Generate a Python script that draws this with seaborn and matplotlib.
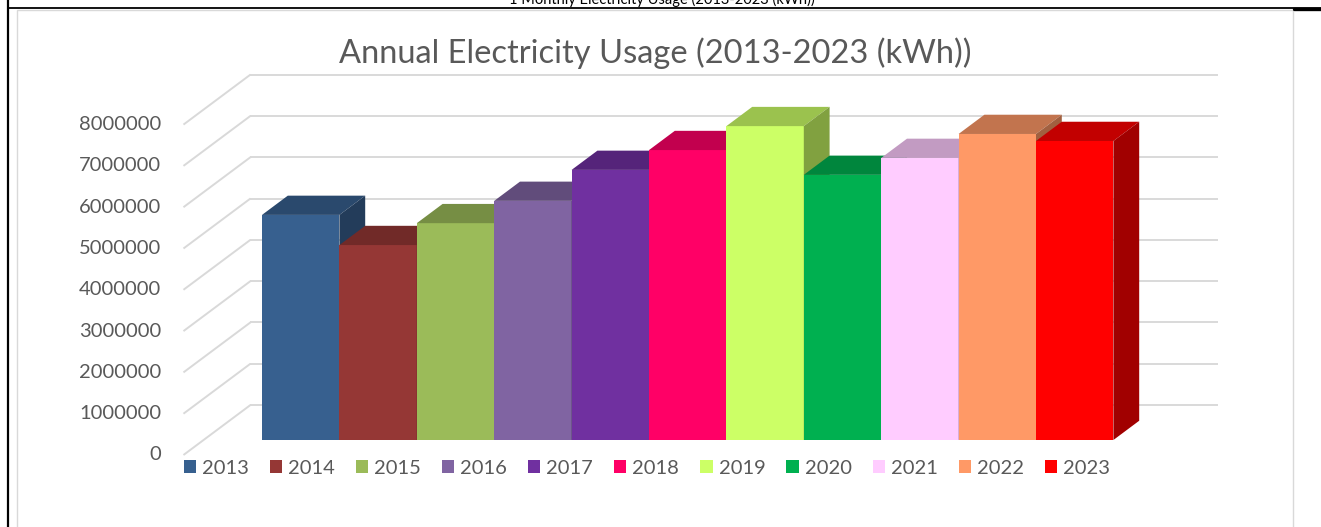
import matplotlib
matplotlib.use("Agg")
import numpy as np
import pandas as pd
import matplotlib.pyplot as plt
import seaborn as sns
from matplotlib.patches import Polygon, Rectangle
from matplotlib.lines import Line2D
import matplotlib.colors as mcolors

# ---------------- data ----------------
years = ["2013", "2014", "2015", "2016", "2017", "2018",
         "2019", "2020", "2021", "2022", "2023"]
usage_kwh = [5450000, 4720000, 5250000, 5790000, 6540000, 7020000,
             7600000, 6420000, 6830000, 7410000, 7240000]
front_colors = ["#37608F", "#953735", "#9BBB59", "#8064A2", "#7030A0", "#FF0066",
                "#CCFF66", "#00B050", "#FFCCFF", "#FF9966", "#FF0000"]
tick_values = [0, 1000000, 2000000, 3000000, 4000000, 5000000,
               6000000, 7000000, 8000000]
tick_labels = [str(v) for v in tick_values]
chart_title = "Annual Electricity Usage (2013-2023 (kWh))"
clipped_heading = "1 Monthly Electricity Usage (2013-2023 (kWh))"

# ---------------- layout constants ----------------
W, H, DPI = 1321, 527, 100
PX_CAT = 77.4            # px per category
PX_VAL = 41.3 / 1e6      # px per kWh
X0_PX, Y0_PX = 262, 440  # left edge of first bar, base of bars (px)
DX = 67 / PX_CAT         # full floor depth, in category units
DY = 50 / PX_VAL         # full floor depth, in value units
FRONT, BACK = -0.3, 0.7  # floor front / back wall depth relative to bar fronts
BAR_DEPTH = 0.385
FLOOR_MARGIN = 0.755

TEXT_GREY = "#595959"
GRID = "#D9D9D9"

sns.set_theme(style="white")
plt.rcParams["font.family"] = ["Lato", "DejaVu Sans"]

fig = plt.figure(figsize=(W / DPI, H / DPI), dpi=DPI)
ax = fig.add_axes([0, 0, 1, 1])

df = pd.DataFrame({"year": years, "usage": usage_kwh})
sns.barplot(data=df, x="year", y="usage", hue="year", palette=front_colors,
            width=1.0, saturation=1, legend=False, ax=ax, linewidth=0)

ax.set_xlim(-0.5 - X0_PX / PX_CAT, -0.5 + (W - X0_PX) / PX_CAT)
ax.set_ylim((Y0_PX - H) / PX_VAL, Y0_PX / PX_VAL)
ax.axis("off")

n = len(years)
fl = -0.5 - FLOOR_MARGIN
fr = n - 0.5 + FLOOR_MARGIN - 0.01

# gridlines: back wall + left wall diagonals
for v in tick_values:
    ax.plot([fl + BACK * DX, fr + BACK * DX], [v + BACK * DY] * 2,
            color=GRID, lw=1.4, zorder=1, solid_capstyle="butt")
    ax.plot([fl + FRONT * DX, fl + BACK * DX], [v + FRONT * DY, v + BACK * DY],
            color=GRID, lw=1.4, zorder=1, solid_capstyle="butt")

# tick labels on the front edge of the left wall
label_x = fl + FRONT * DX - 22 / PX_CAT
for v, lab in zip(tick_values, tick_labels):
    ax.text(label_x, v + FRONT * DY, lab, ha="right", va="center",
            fontsize=14.5, color=TEXT_GREY)

# 3D faces of bars
def shade(c, f):
    r, g, b = mcolors.to_rgb(c)
    return (r * f, g * f, b * f)

bdx, bdy = BAR_DEPTH * DX, BAR_DEPTH * DY
bars = sorted(ax.patches, key=lambda p: p.get_x())
for i, (p, col) in enumerate(zip(bars, front_colors)):
    x0, w, h = p.get_x(), p.get_width(), p.get_height()
    p.set_zorder(3 + 3 * i)
    p.set_edgecolor("none")
    top = Polygon([(x0, h), (x0 + w, h), (x0 + w + bdx, h + bdy), (x0 + bdx, h + bdy)],
                  closed=True, facecolor=shade(col, 0.76), edgecolor="none",
                  zorder=4 + 3 * i)
    side = Polygon([(x0 + w, 0), (x0 + w, h), (x0 + w + bdx, h + bdy), (x0 + w + bdx, bdy)],
                   closed=True, facecolor=shade(col, 0.63), edgecolor="none",
                   zorder=5 + 3 * i)
    ax.add_patch(top)
    ax.add_patch(side)

# legend
handles = [Rectangle((0, 0), 1, 1, facecolor=c, edgecolor="none") for c in front_colors]
leg = ax.legend(handles, years, ncol=n, loc="center",
                bbox_to_anchor=(647 / W, 1 - 468 / H), bbox_transform=fig.transFigure,
                frameon=False, fontsize=14.5, handlelength=0.6, handleheight=0.65,
                handletextpad=0.3, columnspacing=1.05, borderpad=0)
for t in leg.get_texts():
    t.set_color(TEXT_GREY)

# titles
fig.text(655 / W, 1 - 63 / H, chart_title, ha="center", va="baseline",
         fontsize=23.5, color=TEXT_GREY)
fig.text(662 / W, 1 - 4 / H, clipped_heading, ha="center", va="baseline",
         fontsize=10.5, color="black")

# frames
fig.add_artist(Rectangle((17 / W, -0.02), (1293 - 17) / W, (H - 10) / H + 0.02,
                         transform=fig.transFigure, fill=False,
                         edgecolor=GRID, lw=1.0))
fig.add_artist(Line2D([8 / W, 8 / W], [0, 1], transform=fig.transFigure,
                      color="black", lw=1.6))
fig.add_artist(Line2D([8 / W, 1], [1 - 8 / H] * 2, transform=fig.transFigure,
                      color="black", lw=1.3))
fig.add_artist(Line2D([1294 / W, 1], [1 - 8.5 / H] * 2, transform=fig.transFigure,
                      color="black", lw=2.4))

fig.savefig("out.png", dpi=DPI)
